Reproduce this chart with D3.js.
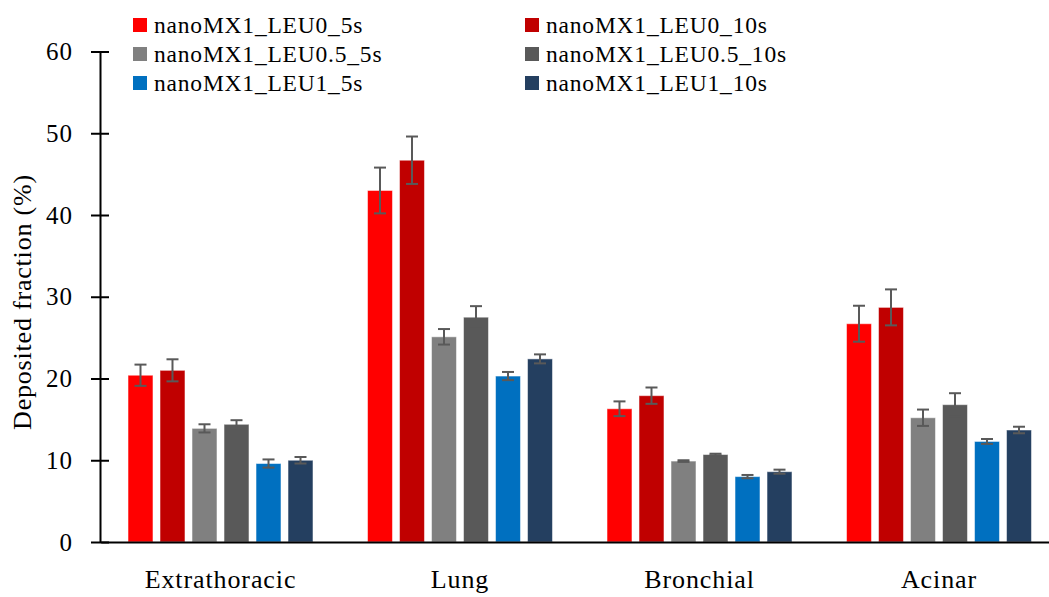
<!DOCTYPE html>
<html>
<head>
<meta charset="utf-8">
<script src="https://cdn.jsdelivr.net/npm/d3@7"></script>
<style>
  body { margin: 0; background: #fff; }
  svg text { font-family: "Liberation Serif", "DejaVu Serif", "Times New Roman", serif !important; fill: #000; }
</style>
</head>
<body>
<div id="chart"></div>
<script>
// categories and series
var regions = ["Extrathoracic", "Lung", "Bronchial", "Acinar"];
var seriesNames = ["nanoMX1_LEU0_5s", "nanoMX1_LEU0_10s", "nanoMX1_LEU0.5_5s",
                   "nanoMX1_LEU0.5_10s", "nanoMX1_LEU1_5s", "nanoMX1_LEU1_10s"];
var seriesColors = ["#ff0000", "#c00000", "#808080", "#595959", "#0070c0", "#243f60"];

// values per series (same order as regions)
var leu0_5s    = [20.4, 43.0, 16.3, 26.7];
var leu0_10s   = [21.0, 46.7, 17.9, 28.7];
var leu05_5s   = [13.9, 25.1, 9.9, 15.2];
var leu05_10s  = [14.4, 27.5, 10.7, 16.8];
var leu1_5s    = [9.6, 20.3, 8.0, 12.3];
var leu1_10s   = [10.0, 22.4, 8.6, 13.7];

// error (+/-)
var err0_5s   = [1.3, 2.8, 0.9, 2.2];
var err0_10s  = [1.35, 2.9, 1.0, 2.2];
var err05_5s  = [0.5, 0.95, 0.1, 1.0];
var err05_10s = [0.5, 1.35, 0.1, 1.4];
var err1_5s   = [0.5, 0.5, 0.2, 0.3];
var err1_10s  = [0.4, 0.55, 0.25, 0.4];

var yTicks = [0, 10, 20, 30, 40, 50, 60];

var allValues = [leu0_5s, leu0_10s, leu05_5s, leu05_10s, leu1_5s, leu1_10s];
var allErrors = [err0_5s, err0_10s, err05_5s, err05_10s, err1_5s, err1_10s];

var data = [];
regions.forEach(function(r, i) {
  seriesNames.forEach(function(s, j) {
    data.push({region: r, series: s, value: allValues[j][i], err: allErrors[j][i], color: seriesColors[j]});
  });
});

var W = 1049, H = 597;
var plotBottom = 542;

var svg = d3.select("#chart").append("svg")
  .attr("width", W).attr("height", H);

var x0 = d3.scaleBand().domain(regions).range([100.75, 1058.75]).paddingInner(0).paddingOuter(0);
var x1 = d3.scaleBand().domain(seriesNames).range([0, x0.bandwidth()]).paddingInner(0.22).paddingOuter(0.852);
var y = d3.scaleLinear().domain([0, 60]).range([plotBottom, 51.5]);

// bars
var groups = svg.append("g").selectAll("g")
  .data(regions).enter().append("g")
  .attr("transform", function(d) { return "translate(" + x0(d) + ",0)"; });

groups.selectAll("rect")
  .data(function(r) { return data.filter(function(d) { return d.region == r; }); })
  .enter().append("rect")
  .attr("x", function(d) { return x1(d.series); })
  .attr("y", function(d) { return y(d.value); })
  .attr("width", x1.bandwidth())
  .attr("height", function(d) { return y(0) - y(d.value); })
  .attr("fill", function(d) { return d.color; })
  .attr("stroke", "rgba(255,255,255,0.5)")
  .attr("stroke-width", 1);

// error bars
var eb = groups.selectAll("g.err")
  .data(function(r) { return data.filter(function(d) { return d.region == r; }); })
  .enter().append("g").attr("class", "err")
  .attr("stroke", "#595959").attr("stroke-width", 2);
function cx(d) { return x1(d.series) + x1.bandwidth() / 2; }
eb.append("line")
  .attr("x1", cx).attr("x2", cx)
  .attr("y1", function(d) { return y(d.value + d.err); })
  .attr("y2", function(d) { return y(d.value - d.err); });
eb.append("line")
  .attr("x1", function(d) { return cx(d) - 6; })
  .attr("x2", function(d) { return cx(d) + 6; })
  .attr("y1", function(d) { return y(d.value + d.err); })
  .attr("y2", function(d) { return y(d.value + d.err); });
eb.append("line")
  .attr("x1", function(d) { return cx(d) - 6; })
  .attr("x2", function(d) { return cx(d) + 6; })
  .attr("y1", function(d) { return y(d.value - d.err); })
  .attr("y2", function(d) { return y(d.value - d.err); });

// y axis
var yAxis = svg.append("g")
  .attr("transform", "translate(100,0)")
  .call(d3.axisLeft(y).tickValues(yTicks).tickSize(9).tickSizeOuter(0).tickPadding(18));
yAxis.attr("font-family", null);
yAxis.select(".domain").attr("stroke", "#000").attr("stroke-width", 2);
yAxis.selectAll(".tick line").attr("stroke", "#000").attr("stroke-width", 2)
  .attr("x2", -9).attr("x1", 9);
yAxis.selectAll(".tick text").style("font-size", "25px").style("letter-spacing", "1px").attr("fill", "#000");

// x axis baseline
var xAxis = svg.append("g")
  .attr("transform", "translate(0," + plotBottom + ")")
  .call(d3.axisBottom(x0).tickSize(0).tickPadding(28));
xAxis.attr("font-family", null);
xAxis.select(".domain").attr("stroke", "#000").attr("stroke-width", 2);
xAxis.selectAll(".tick text").style("font-size", "26px").style("letter-spacing", "0.9px").attr("fill", "#000");

// y label
svg.append("text")
  .attr("transform", "translate(31,302) rotate(-90)")
  .attr("text-anchor", "middle")
  .style("font-size", "26px")
  .style("letter-spacing", "0.8px")
  .text("Deposited fraction (%)");

// legend
var legendX = [133, 525];
var legendY = [25, 54, 83];
var legend = svg.append("g").selectAll("g")
  .data(seriesNames).enter().append("g")
  .attr("transform", function(d, i) {
    return "translate(" + legendX[i % 2] + "," + legendY[Math.floor(i / 2)] + ")";
  });
legend.append("rect")
  .attr("x", 0).attr("y", -7).attr("width", 14).attr("height", 14)
  .attr("fill", function(d, i) { return seriesColors[i]; });
legend.append("text")
  .attr("x", 21).attr("y", 0).attr("dy", "0.35em")
  .style("font-size", "23.5px")
  .style("letter-spacing", "0.8px")
  .text(function(d) { return d; });
</script>
</body>
</html>
